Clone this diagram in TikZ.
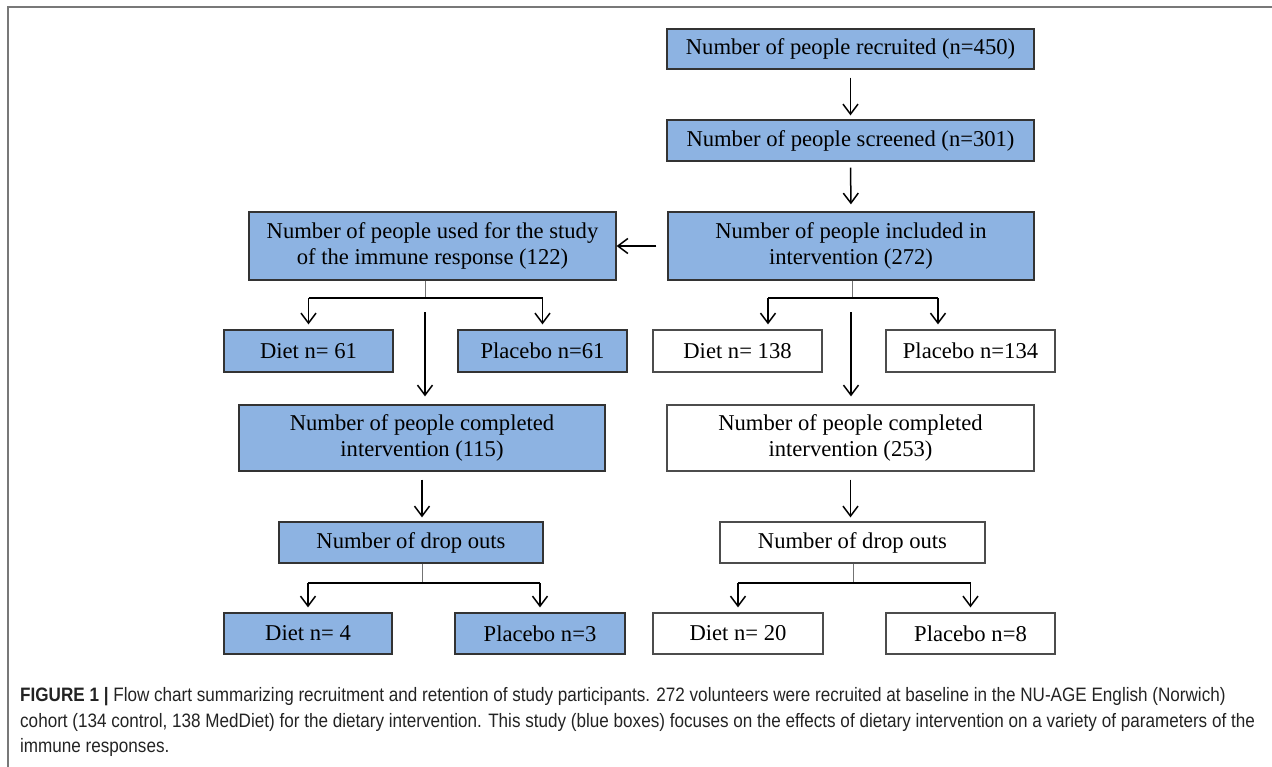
\documentclass[tikz,border=0pt]{standalone}
\usepackage{fontspec}
\setmainfont{Liberation Serif}
\newfontfamily\capfont[FakeStretch=0.88]{Liberation Sans}
\usetikzlibrary{arrows.meta}
\definecolor{boxblue}{RGB}{141,179,226}
\definecolor{framegray}{RGB}{120,120,120}
\definecolor{captext}{RGB}{35,35,35}
\begin{document}
\begin{tikzpicture}[x=1bp,y=-1bp,
  box/.style={rectangle, line width=1.3bp, inner sep=0pt, align=center,
    font=\fontsize{22.7}{26}\selectfont},
  bluebox/.style={box, draw=black!80, fill=boxblue},
  whitebox/.style={box, draw=black!70, fill=white},
  arr/.style={draw=black, line width=1.5bp,
    -{Straight Barb[length=10bp,width=15bp,line width=1.5bp]}},
  hline/.style={draw=black, line width=1.5bp},
  stemline/.style={draw=black!55, line width=1bp},
  capline/.style={anchor=base west, inner sep=0pt, text=captext,
    font=\capfont\fontsize{19.5}{22}\selectfont}]
\useasboundingbox (0,0) rectangle (1272,767);
% frame
\draw[framegray, line width=2bp] (8,767) -- (8,7) -- (1272,7);

% right column
\node[bluebox, minimum width=367bp, minimum height=40bp] (rec) at (850.5,49) {Number of people recruited (n=450)};
\node[bluebox, minimum width=367bp, minimum height=41bp] (scr) at (850.5,140.5) {Number of people screened (n=301)};
\node[bluebox, minimum width=366bp, minimum height=68bp] (inc) at (851,246) {Number of people included in\\intervention (272)};
\node[whitebox, minimum width=169bp, minimum height=42bp] (d138) at (737.5,351) {Diet n= 138};
\node[whitebox, minimum width=169bp, minimum height=42bp] (p134) at (970.5,351) {Placebo n=134};
\node[whitebox, minimum width=367bp, minimum height=66bp] (c253) at (850.5,438) {Number of people completed\\intervention (253)};
\node[whitebox, minimum width=265bp, minimum height=41bp] (do2) at (852.5,542.5) {Number of drop outs};
\node[whitebox, minimum width=170bp, minimum height=41bp] (d20) at (738,633.5) {Diet n= 20};
\node[whitebox, minimum width=169bp, minimum height=41bp] (p8) at (970.5,633.5) {Placebo n=8};

% left column
\node[bluebox, minimum width=367bp, minimum height=68bp] (imm) at (432.5,246) {Number of people used for the study\\of the immune response (122)};
\node[bluebox, minimum width=169bp, minimum height=42bp] (d61) at (308.5,351) {Diet n= 61};
\node[bluebox, minimum width=169bp, minimum height=42bp] (p61) at (542.5,351) {Placebo n=61};
\node[bluebox, minimum width=366bp, minimum height=66bp] (c115) at (422,438) {Number of people completed\\intervention (115)};
\node[bluebox, minimum width=264bp, minimum height=41bp] (do1) at (411,542.5) {Number of drop outs};
\node[bluebox, minimum width=168bp, minimum height=41bp] (d4) at (308,633.5) {Diet n= 4};
\node[bluebox, minimum width=170bp, minimum height=41bp] (p3) at (540,633.5) {Placebo n=3};

% main chain
\draw[arr, shorten <=8bp, shorten >=4bp] (rec.south) -- (scr.north);
\draw[arr, shorten <=6bp, shorten >=7bp] (scr.south) -- (inc.north);
\draw[arr, shorten <=11bp] (inc.west) -- (imm.east);

% left branch 1
\coordinate (b1) at (425,298);
\coordinate (m1) at (425,312);
\draw[stemline] (imm.south -| b1) -- (b1);
\draw[hline] (d61.north |- b1) -- (p61.north |- b1);
\draw[arr, shorten >=5bp] (d61.north |- b1) -- (d61.north);
\draw[arr, shorten >=5bp] (p61.north |- b1) -- (p61.north);
\draw[arr, shorten >=8bp] (m1) -- (m1 |- c115.north);
% left lower
\draw[arr, shorten <=8bp, shorten >=4bp] (c115.south) -- (c115.south |- do1.north);
\coordinate (b2) at (422,583);
\draw[stemline] (do1.south -| b2) -- (b2);
\draw[hline] (d4.north |- b2) -- (p3.north |- b2);
\draw[arr, shorten >=5bp] (d4.north |- b2) -- (d4.north);
\draw[arr, shorten >=5bp] (p3.north |- b2) -- (p3.north);

% right branch 1
\coordinate (b3) at (852,298);
\coordinate (m2) at (851,312);
\coordinate (ad) at (768,298);
\coordinate (ap) at (938,298);
\draw[stemline] (inc.south -| b3) -- (b3);
\draw[hline] (ad) -- (ap);
\draw[arr, shorten >=5bp] (ad) -- (ad |- d138.north);
\draw[arr, shorten >=5bp] (ap) -- (ap |- p134.north);
\draw[arr, shorten >=8bp] (m2) -- (m2 |- c253.north);
% right lower
\draw[arr, shorten <=8bp, shorten >=4bp] (c253.south) -- (c253.south |- do2.north);
\coordinate (b4) at (853,583);
\draw[stemline] (do2.south -| b4) -- (b4);
\draw[hline] (d20.north |- b4) -- (p8.north |- b4);
\draw[arr, shorten >=5bp] (d20.north |- b4) -- (d20.north);
\draw[arr, shorten >=5bp] (p8.north |- b4) -- (p8.north);

% caption
\node[capline] (cap1) at (20,701) {\textbf{FIGURE 1 |} Flow chart summarizing recruitment and retention of study participants. 272 volunteers were recruited at baseline in the NU-AGE English (Norwich)};
\node[capline] (cap2) at (20,727) {cohort (134 control, 138 MedDiet) for the dietary intervention. This study (blue boxes) focuses on the effects of dietary intervention on a variety of parameters of the};
\node[capline] (cap3) at (20,752) {immune responses.};
\end{tikzpicture}
\end{document}
